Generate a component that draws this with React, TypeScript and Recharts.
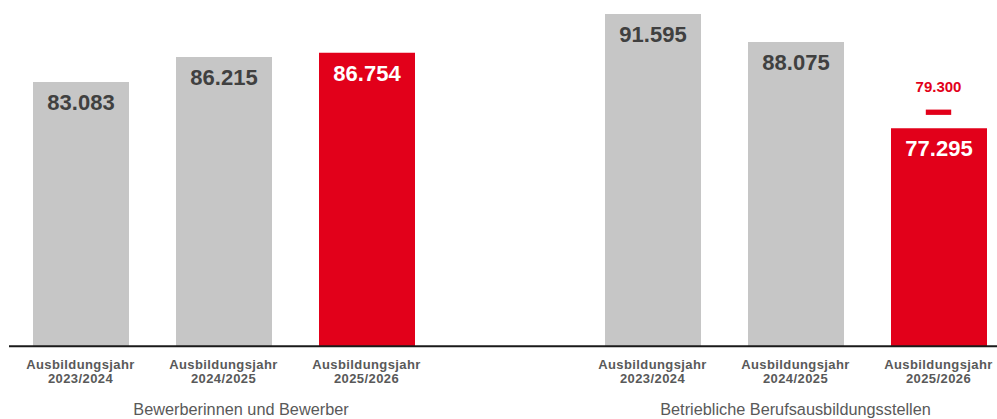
import React from "react";
import { ComposedChart, Bar, Cell, XAxis, YAxis, Scatter, LabelList } from "recharts";

const categories = ["2023/2024", "2024/2025", "2025/2026", "", "2023/2024", "2024/2025", "2025/2026"];
const tickPrefix = "Ausbildungsjahr";
const values: (number | null)[] = [83083, 86215, 86754, null, 91595, 88075, 77295];
const targets: (number | null)[] = [null, null, null, null, null, null, 79300];
const highlighted = [false, false, true, false, false, false, true];
const groupLabels = ["Bewerberinnen und Bewerber", "Betriebliche Berufsausbildungsstellen"];
const groupLabelAt = [1, 5];

const GRAY = "#c6c6c6";
const RED = "#e2001a";
const FONT = "'Liberation Sans', Arial, sans-serif";

const data = categories.map((c, i) => ({
  id: String(i),
  cat: c,
  value: values[i],
  target: targets[i],
  hl: highlighted[i],
}));

const fmt = (v: number) => v.toLocaleString("de-DE");

const Tick = (props: any) => {
  const { x, y, payload } = props;
  const i = Number(payload.value);
  const cat = categories[i];
  const gi = groupLabelAt.indexOf(i);
  return (
    <g>
      {cat ? (
        <text
          textAnchor="middle"
          fontFamily={FONT}
          fontWeight="bold"
          fontSize={13}
          letterSpacing={0.4}
          fill="#595959"
        >
          <tspan x={x} y={y + 23}>{tickPrefix}</tspan>
          <tspan x={x} y={y + 37}>{cat}</tspan>
        </text>
      ) : null}
      {gi >= 0 ? (
        <text
          x={x + (gi === 0 ? 17.5 : 0)}
          y={y + 69}
          textAnchor="middle"
          fontFamily={FONT}
          fontSize={16.3}
          fill="#595959"
        >
          {groupLabels[gi]}
        </text>
      ) : null}
    </g>
  );
};

const ValueLabel = (props: any) => {
  const { x, y, width, value } = props;
  if (value == null) return null;
  const idx = values.indexOf(value);
  return (
    <text
      x={x + width / 2}
      y={y + 28}
      textAnchor="middle"
      fontFamily={FONT}
      fontWeight="bold"
      fontSize={22}
      fill={highlighted[idx] ? "#ffffff" : "#404040"}
    >
      {fmt(value)}
    </text>
  );
};

const TargetShape = (props: any) => {
  const { cx, cy, payload } = props;
  if (payload == null || payload.target == null || !Number.isFinite(cy)) return null;
  return (
    <g>
      <rect x={cx - 12.7} y={cy - 2.6} width={25.4} height={5.3} fill={RED} />
      <text
        x={cx}
        y={cy - 20}
        textAnchor="middle"
        fontFamily={FONT}
        fontWeight="bold"
        fontSize={15}
        fill={RED}
      >
        {fmt(payload.target)}
      </text>
    </g>
  );
};

export default function App() {
  return (
    <div
      style={{
        position: "fixed",
        left: 0,
        top: 0,
        width: 997,
        height: 419,
        overflow: "hidden",
        background: "#ffffff",
      }}
    >
      <ComposedChart
        width={1011}
        height={419}
        data={data}
        margin={{ top: 8, right: 1, bottom: 0, left: 9 }}
      >
        <XAxis
          dataKey="id"
          height={72.7}
          tickLine={false}
          tickSize={0}
          tickMargin={0}
          axisLine={{ stroke: "#1a1a1a", strokeWidth: 2 }}
          tick={<Tick />}
          interval={0}
        />
        <YAxis hide domain={[50000, 92340]} allowDataOverflow />
        <Bar dataKey="value" barSize={96} isAnimationActive={false}>
          {data.map((d, i) => (
            <Cell key={i} fill={d.hl ? RED : GRAY} />
          ))}
          <LabelList dataKey="value" content={<ValueLabel />} />
        </Bar>
        <Scatter dataKey="target" shape={<TargetShape />} isAnimationActive={false} />
      </ComposedChart>
    </div>
  );
}
